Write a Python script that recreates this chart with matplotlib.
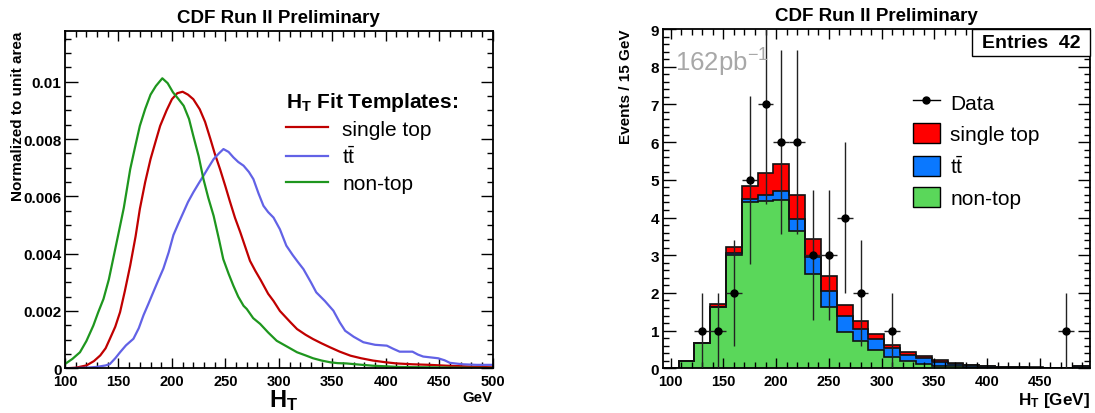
import numpy as np
import matplotlib
matplotlib.use("Agg")
import matplotlib.pyplot as plt
from matplotlib.lines import Line2D
from matplotlib.patches import Patch, Rectangle
from matplotlib.ticker import MultipleLocator, FuncFormatter

plt.rcParams["font.family"] = ["Liberation Sans", "DejaVu Sans"]
plt.rcParams["font.weight"] = "bold"
plt.rcParams["axes.labelweight"] = "bold"
plt.rcParams["mathtext.fontset"] = "custom"
plt.rcParams["mathtext.rm"] = "Liberation Sans:weight=normal"
plt.rcParams["mathtext.bf"] = "Liberation Sans:weight=bold"
plt.rcParams["mathtext.it"] = "Liberation Sans:italic:weight=normal"

# ---------------- H_T fit templates (normalized to unit area) ----------------
st_x = [100, 110, 120, 127, 133, 138, 142, 147, 151.5, 156, 161, 166, 170, 175,
        180, 185, 189, 195, 200, 205, 210, 215, 220, 226, 231, 236, 240, 245,
        250, 254, 259, 264, 268, 273, 278, 283, 290, 295, 301, 306, 311, 317,
        325, 332, 340, 348, 357, 367, 377, 388, 400, 410, 425, 441, 457, 473,
        485, 500]
st_y = [0.0, 0.00002, 0.0001, 0.00025, 0.00045, 0.0007, 0.00103, 0.00145,
        0.00196, 0.0027, 0.00359, 0.0046, 0.00556, 0.0065, 0.0073, 0.00795,
        0.00846, 0.009, 0.00939, 0.0096, 0.00965, 0.00955, 0.00939, 0.00904,
        0.0086, 0.008, 0.0075, 0.00695, 0.00635, 0.00585, 0.00525, 0.00474,
        0.0043, 0.00375, 0.0034, 0.00308, 0.0026, 0.00235, 0.002, 0.0018,
        0.0016, 0.00137, 0.00117, 0.00102, 0.00087, 0.00073, 0.00058, 0.00044,
        0.00035, 0.00027, 0.00021, 0.00017, 0.00014, 0.00012, 0.00009, 0.00007,
        0.00005, 0.000035]

tt_x = [100, 120, 130, 138, 142, 147, 151.5, 157, 164, 169, 173.4, 178, 182.7,
        187, 192, 197, 201.4, 206, 210.7, 215, 220, 225, 229.5, 234, 239, 244,
        248.2, 253, 257.5, 262, 267, 272, 276.2, 281, 285.6, 290, 295, 301, 307,
        313, 318, 323, 330, 335, 343, 351, 357, 362, 370, 379, 390, 401, 407,
        413, 425, 430, 435, 449, 455, 460, 472, 485, 500]
tt_y = [0.0, 0.00002, 0.00005, 0.0001, 0.00015, 0.00035, 0.00056, 0.0008,
        0.00103, 0.0014, 0.00185, 0.00225, 0.00267, 0.00305, 0.00348, 0.00405,
        0.00465, 0.00505, 0.00544, 0.0058, 0.00614, 0.00645, 0.00672, 0.007,
        0.0073, 0.0075, 0.00765, 0.00755, 0.00736, 0.0072, 0.00707, 0.00685,
        0.0066, 0.0061, 0.00567, 0.00545, 0.00526, 0.00485, 0.00428, 0.00395,
        0.0037, 0.00346, 0.003, 0.00265, 0.00235, 0.00201, 0.0016, 0.00131,
        0.0011, 0.00091, 0.00082, 0.00079, 0.00068, 0.00058, 0.00058, 0.00048,
        0.00041, 0.00035, 0.00028, 0.00019, 0.00014, 0.00012, 0.00012]

nt_x = [100, 107, 114, 120, 126.5, 131, 136, 141, 145, 150, 155, 161, 166, 170,
        175, 180, 185, 191, 196, 201, 206, 211, 216, 220, 225, 229.5, 234, 239,
        244, 248, 253, 257.5, 262, 267, 270, 276, 282.5, 290, 298, 308, 317,
        325, 332, 340, 348, 355, 363, 375, 388, 400, 410, 425, 441, 460, 480,
        500]
nt_y = [0.00015, 0.00033, 0.00056, 0.00095, 0.00149, 0.00195, 0.00242, 0.0031,
        0.00381, 0.0047, 0.0056, 0.00695, 0.0078, 0.00846, 0.00905, 0.00955,
        0.00985, 0.01012, 0.00995, 0.00963, 0.0094, 0.00916, 0.0087, 0.00811,
        0.0074, 0.0066, 0.00595, 0.00532, 0.0045, 0.00381, 0.0033, 0.00288,
        0.0025, 0.00218, 0.00207, 0.00175, 0.00155, 0.00125, 0.00096, 0.00075,
        0.00056, 0.00045, 0.00035, 0.00027, 0.00021, 0.00018, 0.00017, 0.00013,
        0.00009, 0.00007, 0.00005, 0.00004, 0.000035, 0.000025, 0.000015,
        0.00001]

# ---------------- H_T distribution: stacked prediction and data ----------------
bin_low = 92.5
bin_width = 15.0
non_top = [0.0, 0.20, 0.66, 1.62, 3.00, 4.41, 4.43, 4.47, 3.63, 2.51, 1.63,
           0.96, 0.72, 0.49, 0.31, 0.19, 0.12, 0.07, 0.05, 0.035, 0.02, 0.015,
           0.01, 0.008, 0.005, 0.005, 0.01]
ttbar = [0.0, 0.0, 0.0, 0.01, 0.05, 0.09, 0.17, 0.24, 0.33, 0.43, 0.43, 0.44,
         0.33, 0.28, 0.24, 0.16, 0.15, 0.10, 0.07, 0.045, 0.03, 0.02, 0.02,
         0.012, 0.01, 0.007, 0.05]
single_top = [0.0, 0.0, 0.005, 0.07, 0.16, 0.34, 0.57, 0.70, 0.65, 0.50, 0.40,
              0.28, 0.20, 0.14, 0.08, 0.08, 0.06, 0.05, 0.02, 0.02, 0.015, 0.01,
              0.005, 0.005, 0.005, 0.003, 0.005]

data_ht = [130, 145, 160, 175, 190, 205, 220, 235, 250, 265, 280, 310, 475]
data_n = [1, 1, 2, 5, 7, 6, 6, 3, 3, 4, 2, 1, 1]

C_ST_LINE, C_TT_LINE, C_NT_LINE = "#c00000", "#6262e6", "#1e961e"
C_ST_FILL, C_TT_FILL, C_NT_FILL = "#ff0000", "#0a78ff", "#5ad75a"

W, H = 1095, 414
fig = plt.figure(figsize=(W / 100, H / 100), dpi=100)
ax1 = fig.add_axes([65 / W, 1 - 369.3 / H, 427.7 / W, 337.3 / H])
ax2 = fig.add_axes([662.7 / W, 1 - 369.3 / H, 427.3 / W, 339.3 / H])


def root_style(ax, xmaj, xmin, ymaj, ymin):
    ax.xaxis.set_major_locator(MultipleLocator(xmaj))
    ax.xaxis.set_minor_locator(MultipleLocator(xmin))
    ax.yaxis.set_major_locator(MultipleLocator(ymaj))
    ax.yaxis.set_minor_locator(MultipleLocator(ymin))
    ax.tick_params(which="both", direction="in", top=True, right=True,
                   width=1.0, color="black")
    ax.tick_params(axis="x", which="major", length=7.5, pad=4, labelsize=10.5)
    ax.tick_params(axis="x", which="minor", length=4)
    ax.tick_params(axis="y", which="major", length=9, pad=2.5, labelsize=11)
    ax.tick_params(axis="y", which="minor", length=4.5)
    for sp in ax.spines.values():
        sp.set_linewidth(1.3)


# ---------------- left: templates ----------------
ax1.plot(st_x, st_y, color=C_ST_LINE, lw=1.6, label="single top")
ax1.plot(tt_x, tt_y, color=C_TT_LINE, lw=1.6, label=r"$\mathrm{t\bar{t}}$")
ax1.plot(nt_x, nt_y, color=C_NT_LINE, lw=1.6, label="non-top")
ax1.set_xlim(100, 500)
ax1.set_ylim(0, 0.01177)
root_style(ax1, 50, 10, 0.002, 0.0005)
ax1.yaxis.set_major_formatter(FuncFormatter(lambda v, p: f"{v:g}"))
ax1.set_title("CDF Run II Preliminary", fontsize=13.5, fontweight="bold", pad=6.7)
ax1.set_ylabel("Normalized to unit area", fontsize=11, fontweight="bold",
               loc="top")
ax1.yaxis.set_label_coords(-0.093, 1.0)
ax1.text(0.511, -0.056, r"$\mathbf{H_T}$", transform=ax1.transAxes,
         ha="center", va="top", fontsize=17)
ax1.text(1.0, -0.063, "GeV", transform=ax1.transAxes, ha="right", va="top",
         fontsize=10.8)
leg1 = ax1.legend(loc="upper left", bbox_to_anchor=(0.517, 0.826),
                  frameon=False, fontsize=15, handlelength=2.0,
                  handletextpad=0.7, labelspacing=0.33, borderpad=0,
                  borderaxespad=0, title=r"$\mathbf{H_T}$ Fit Templates:",
                  title_fontproperties={"weight": "bold", "size": 15},
                  alignment="left")
for t in leg1.get_texts():
    t.set_fontweight("normal")
for ln in leg1.get_lines():
    ln.set_linewidth(1.6)

# ---------------- right: stacked histogram with data ----------------
nb = len(non_top)
edges = bin_low + bin_width * np.arange(nb + 1)
c_nt = np.array(non_top)
c_tt = c_nt + np.array(ttbar)
c_st = c_tt + np.array(single_top)

ax2.stairs(c_st, edges, fill=True, color=C_ST_FILL, zorder=1)
ax2.stairs(c_tt, edges, fill=True, color=C_TT_FILL, zorder=1.1)
ax2.stairs(c_nt, edges, fill=True, color=C_NT_FILL, zorder=1.2)
for c in (c_st, c_tt, c_nt):
    ax2.stairs(c, edges, color="#111111", lw=1.2, zorder=1.5)

dn = np.array(data_n, dtype=float)
ax2.errorbar(data_ht, dn, yerr=np.sqrt(dn), xerr=bin_width / 2, fmt="o",
             color="black", ecolor="#222222", markersize=5, elinewidth=1.0,
             capsize=0, zorder=3)

ax2.set_xlim(edges[0], edges[-1])
ax2.set_ylim(0, 9)
root_style(ax2, 50, 10, 1, 0.2)
ax2.set_title("CDF Run II Preliminary", fontsize=13.5, fontweight="bold", pad=6.7)
ax2.set_ylabel("Events / 15 GeV", fontsize=11, fontweight="bold", loc="top")
ax2.yaxis.set_label_coords(-0.069, 1.0)
ax2.set_xlabel(r"$\mathbf{H_T}$ [GeV]", fontsize=12.3, fontweight="bold",
               loc="right")
ax2.xaxis.set_label_coords(1.0, -0.063)

ax2.text(0.029, 0.876, r"162pb$^{\mathregular{-1}}$", transform=ax2.transAxes,
         ha="left", va="baseline", fontsize=18.6, fontweight="normal",
         color="#a8a8a8")

ax2.add_patch(Rectangle((0.723, 0.921), 0.277, 0.079, transform=ax2.transAxes,
                        facecolor="white", edgecolor="black", lw=1.0,
                        zorder=4, clip_on=False))
ax2.text(0.8615, 0.9605, "Entries  42", transform=ax2.transAxes, ha="center",
         va="center", fontsize=14, fontweight="bold", zorder=5)

handles = [Line2D([], [], color="black", marker="o", markersize=5, lw=1.0),
           Patch(facecolor=C_ST_FILL, edgecolor="black", lw=1.0),
           Patch(facecolor=C_TT_FILL, edgecolor="black", lw=1.0),
           Patch(facecolor=C_NT_FILL, edgecolor="black", lw=1.0)]
labels = ["Data", "single top", r"$\mathrm{t\bar{t}}$", "non-top"]
leg2 = ax2.legend(handles, labels, loc="upper left",
                  bbox_to_anchor=(0.585, 0.815), frameon=False, fontsize=15,
                  handlelength=1.3, handleheight=1.1, handletextpad=0.5,
                  labelspacing=0.5, borderpad=0, borderaxespad=0, numpoints=1)
for t in leg2.get_texts():
    t.set_fontweight("normal")

fig.savefig("out.png", dpi=100)
